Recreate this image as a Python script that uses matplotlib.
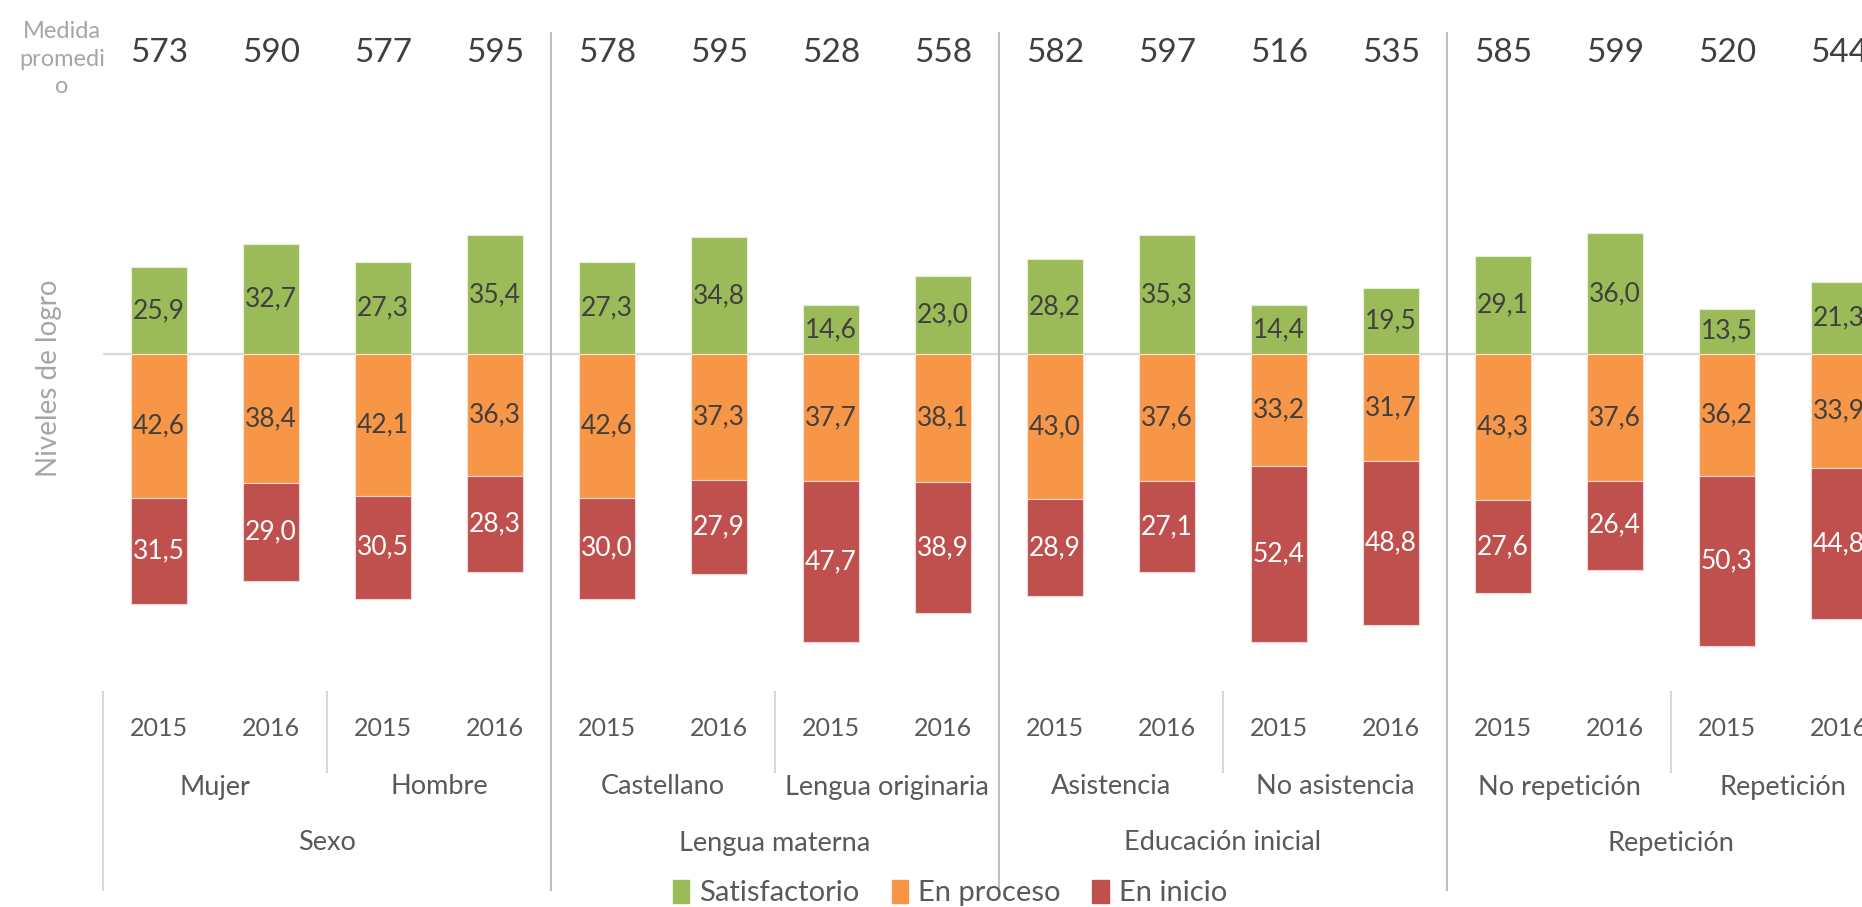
import matplotlib.pyplot as plt
from matplotlib.patches import Patch
import matplotlib.transforms as mtransforms

plt.rcParams['font.family'] = ['Lato', 'DejaVu Sans']

# chart data
years = ['2015', '2016'] * 8
subcats = ['Mujer', 'Hombre', 'Castellano', 'Lengua originaria',
           'Asistencia', 'No asistencia', 'No repetición', 'Repetición']
groups = ['Sexo', 'Lengua materna', 'Educación inicial', 'Repetición']
medida = [573, 590, 577, 595, 578, 595, 528, 558, 582, 597, 516, 535, 585, 599, 520, 544]
satisf = [25.9, 32.7, 27.3, 35.4, 27.3, 34.8, 14.6, 23.0, 28.2, 35.3, 14.4, 19.5, 29.1, 36.0, 13.5, 21.3]
proceso = [42.6, 38.4, 42.1, 36.3, 42.6, 37.3, 37.7, 38.1, 43.0, 37.6, 33.2, 31.7, 43.3, 37.6, 36.2, 33.9]
inicio = [31.5, 29.0, 30.5, 28.3, 30.0, 27.9, 47.7, 38.9, 28.9, 27.1, 52.4, 48.8, 27.6, 26.4, 50.3, 44.8]

c_sat, c_pro, c_ini = '#9BBB59', '#F79646', '#C0504D'
dark = '#404040'
axis_txt = '#595959'

W, H = 1862, 907
fig = plt.figure(figsize=(W / 100, H / 100), dpi=100)
top_px, bot_px, zero_px, scale = 33, 692, 354, 3.37
ax = fig.add_axes([103 / W, (H - bot_px) / H, 16 * 112 / W, (bot_px - top_px) / H])
ax.set_xlim(0, 16)
ax.set_ylim(-(bot_px - zero_px) / scale, (zero_px - top_px) / scale)
ax.axis('off')

def fmt(v):
    return f'{v:.1f}'.replace('.', ',')

def yfrac(px):  # pixel row -> axes fraction
    return (bot_px - px) / (bot_px - top_px)

x = [i + 0.5 for i in range(16)]
neg_pro = [-v for v in proceso]
ax.bar(x, satisf, width=0.5, color=c_sat, edgecolor='#E8F0DA', linewidth=0.8, zorder=2)
ax.bar(x, neg_pro, width=0.5, color=c_pro, edgecolor='#FCE3D2', linewidth=0.8, zorder=2)
ax.bar(x, [-v for v in inicio], bottom=neg_pro, width=0.5, color=c_ini,
       edgecolor='#F2D6D5', linewidth=0.8, zorder=2)

ax.axhline(0, color='#D9D9D9', lw=1.6, zorder=1)

for i in range(16):
    ax.text(x[i], satisf[i] / 2, fmt(satisf[i]), ha='center', va='center',
            fontsize=19, color=dark, zorder=3)
    ax.text(x[i], -proceso[i] / 2, fmt(proceso[i]), ha='center', va='center',
            fontsize=19, color=dark, zorder=3)
    ax.text(x[i], -proceso[i] - inicio[i] / 2, fmt(inicio[i]), ha='center', va='center',
            fontsize=19, color='white', zorder=3)
    # medida promedio row
    ax.text(x[i], (zero_px - 53) / scale, str(medida[i]), ha='center', va='center',
            fontsize=24, color=dark)

trans = mtransforms.blended_transform_factory(ax.transData, ax.transAxes)

# category axis labels
for i in range(16):
    ax.text(x[i], yfrac(729), years[i], transform=trans, ha='center', va='center',
            fontsize=18, color=axis_txt)
for j, s in enumerate(subcats):
    ax.text(2 * j + 1, yfrac(787), s, transform=trans, ha='center', va='center',
            fontsize=19.5, color=axis_txt)
for k, g in enumerate(groups):
    ax.text(4 * k + 2, yfrac(843), g, transform=trans, ha='center', va='center',
            fontsize=19.5, color=axis_txt)

# separators
for xs in [2, 6, 10, 14]:
    ax.plot([xs, xs], [yfrac(692), yfrac(772)], transform=trans, color='#D9D9D9',
            lw=1.5, clip_on=False)
ax.plot([0, 0], [yfrac(692), yfrac(890)], transform=trans, color='#D9D9D9',
        lw=1.5, clip_on=False)
for xs in [4, 8, 12]:
    ax.plot([xs, xs], [yfrac(33), yfrac(890)], transform=trans, color='#BFBFBF',
            lw=1.5, clip_on=False)

fig.text(62 / W, 1 - 59 / H, 'Medida\npromedi\no', ha='center', va='center',
         fontsize=17, color='#A6A6A6', linespacing=1.4)
fig.text(49 / W, 1 - 378 / H, 'Niveles de logro', ha='center', va='center',
         rotation=90, fontsize=20, color='#A6A6A6')

handles = [Patch(color=c_sat, label='Satisfactorio'),
           Patch(color=c_pro, label='En proceso'),
           Patch(color=c_ini, label='En inicio')]
fig.legend(handles=handles, loc='center', bbox_to_anchor=(950 / W, 1 - 893 / H),
           ncol=3, frameon=False, fontsize=21, handlelength=0.55, handleheight=0.85,
           handletextpad=0.35, columnspacing=1.1, labelcolor=axis_txt)

fig.savefig('out.png', dpi=100)
